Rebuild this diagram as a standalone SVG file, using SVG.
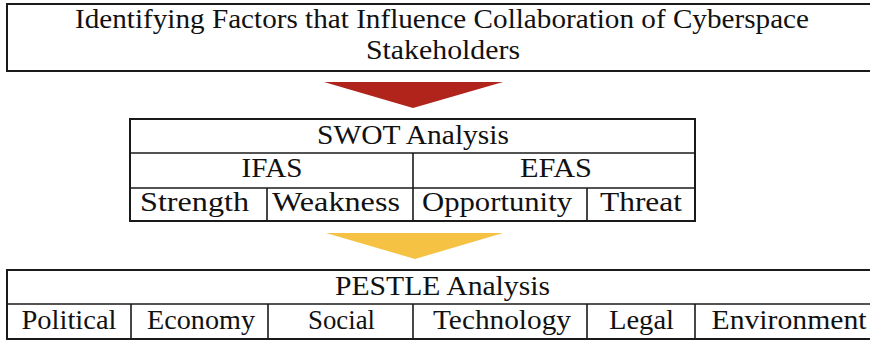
<svg xmlns="http://www.w3.org/2000/svg" width="870" height="341" viewBox="0 0 870 341">
  <style>
    .box { fill: #ffffff; stroke: #1a1a1a; stroke-width: 2; }
    .ln { stroke: #1a1a1a; stroke-width: 1.6; fill: none; }
    .t { font-family: "Liberation Serif", "Times New Roman", serif; font-size: 27px; fill: #111111; text-anchor: middle; }
  </style>
  <rect width="870" height="341" fill="#ffffff"/>

  <!-- Title box -->
  <g id="title">
    <rect class="box" x="7" y="4" width="880" height="67"/>
    <text class="t" x="442" y="27.5" textLength="734" lengthAdjust="spacingAndGlyphs">Identifying Factors that Influence Collaboration of Cyberspace</text>
    <text class="t" x="443" y="59" textLength="154" lengthAdjust="spacingAndGlyphs">Stakeholders</text>
  </g>

  <!-- Flow arrows between stages -->
  <g id="connectors">
    <polygon points="324,82 503,82 413,108" fill="#b0241b"/>
    <polygon points="326,233 503,233 415,259" fill="#f5c243"/>
  </g>

  <!-- SWOT table -->
  <g id="swot">
    <rect class="box" x="130" y="119" width="565" height="102"/>
    <line class="ln" x1="130" y1="153" x2="695" y2="153"/>
    <line class="ln" x1="130" y1="188" x2="695" y2="188"/>
    <line class="ln" x1="413" y1="153" x2="413" y2="221"/>
    <line class="ln" x1="267" y1="188" x2="267" y2="221"/>
    <line class="ln" x1="587" y1="188" x2="587" y2="221"/>
    <text class="t" x="413" y="143.5" textLength="192" lengthAdjust="spacingAndGlyphs">SWOT Analysis</text>
    <text class="t" x="272" y="177" textLength="61" lengthAdjust="spacingAndGlyphs">IFAS</text>
    <text class="t" x="556" y="177" textLength="72" lengthAdjust="spacingAndGlyphs">EFAS</text>
    <text class="t" x="194.5" y="211" textLength="109" lengthAdjust="spacingAndGlyphs">Strength</text>
    <text class="t" x="336" y="211" textLength="128" lengthAdjust="spacingAndGlyphs">Weakness</text>
    <text class="t" x="497" y="211" textLength="150" lengthAdjust="spacingAndGlyphs">Opportunity</text>
    <text class="t" x="641" y="211" textLength="82" lengthAdjust="spacingAndGlyphs">Threat</text>
  </g>

  <!-- PESTLE table -->
  <g id="pestle">
    <rect class="box" x="7" y="270" width="880" height="69"/>
    <line class="ln" x1="7" y1="304" x2="870" y2="304"/>
    <line class="ln" x1="131" y1="304" x2="131" y2="339"/>
    <line class="ln" x1="268" y1="304" x2="268" y2="339"/>
    <line class="ln" x1="413" y1="304" x2="413" y2="339"/>
    <line class="ln" x1="587" y1="304" x2="587" y2="339"/>
    <line class="ln" x1="695" y1="304" x2="695" y2="339"/>
    <text class="t" x="442.5" y="294.5" textLength="215" lengthAdjust="spacingAndGlyphs">PESTLE Analysis</text>
    <text class="t" x="69" y="329" textLength="95" lengthAdjust="spacingAndGlyphs">Political</text>
    <text class="t" x="201" y="329" textLength="108" lengthAdjust="spacingAndGlyphs">Economy</text>
    <text class="t" x="341.5" y="329" textLength="67" lengthAdjust="spacingAndGlyphs">Social</text>
    <text class="t" x="502" y="329" textLength="138" lengthAdjust="spacingAndGlyphs">Technology</text>
    <text class="t" x="641.5" y="329" textLength="65" lengthAdjust="spacingAndGlyphs">Legal</text>
    <text class="t" x="789" y="329" textLength="155" lengthAdjust="spacingAndGlyphs">Environment</text>
  </g>
</svg>
